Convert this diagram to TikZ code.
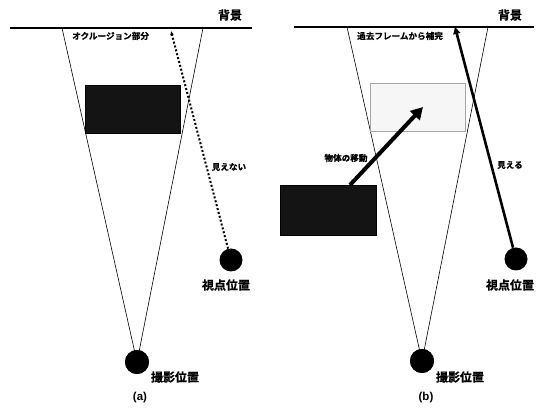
\documentclass[tikz,border=0pt]{standalone}
\usepackage{fontspec}
\setmainfont{Liberation Sans}
\newfontfamily\jpfont{Noto Sans CJK JP}[BoldFont={* Bold}, BoldFeatures={FakeBold=0.8}]
\usetikzlibrary{arrows.meta}
\tikzset{
  ground/.style={line width=1.6pt},
  ray/.style={line width=0.6pt},
  lens/.style={circle, fill=black, minimum size=24pt, inner sep=0pt},
  bigtag/.style={font=\jpfont\bfseries\fontsize{12}{12}\selectfont, inner sep=0pt},
  smalltag/.style={font=\jpfont\bfseries\fontsize{8.6}{9}\selectfont, inner sep=0pt},
  captag/.style={font=\bfseries\fontsize{11.5}{11.5}\selectfont, inner sep=0pt},
  solid block/.style={fill=black!92, draw=black, line width=0.4pt},
  ghost block/.style={fill=gray!7, draw=gray!70, line width=0.5pt},
}
\begin{document}
\begin{tikzpicture}[x=1pt, y=-1pt]
\useasboundingbox (0,0) rectangle (549,411);

% ---------------- (a) ----------------
\coordinate (aL) at (10,28);
\coordinate (aR) at (252,28);
\draw[ground] (aL) -- (aR);
\node[bigtag] (abg) at (230,15) {背景};

\coordinate (aTL) at (62,28);
\coordinate (aTR) at (203,28);
\node[lens] (acam) at (137,362) {};
\draw[ray] (aTL) -- (acam.center) -- (aTR);
\node[lens] (acam2) at (137,362) {};

\node[solid block, minimum width=95pt, minimum height=48pt, inner sep=0pt] (ablk) at (132.5,109) {};

\node[smalltag, anchor=west] (aocc) at (72,36) {オクルージョン部分};

\node[lens, minimum size=23pt] (aview) at (231,260) {};
\coordinate (atgt) at (171,31);
\draw[line width=2pt, dotted, -{Latex[length=4pt,width=4pt]}] (aview) -- (atgt);
\node[smalltag] (ainv) at (229,167) {見えない};

\node[bigtag] (aviewlbl) at (226,285) {視点位置};
\node[bigtag] (acamlbl) at (175,377) {撮影位置};
\node[captag] (acap) at (140,398) {(a)};

% ---------------- (b) ----------------
\coordinate (bL) at (294,27);
\coordinate (bR) at (534,27);
\draw[ground] (bL) -- (bR);
\node[bigtag] (bbg) at (510,15) {背景};

\coordinate (bTL) at (347,27);
\coordinate (bTR) at (488,27);
\node[lens] (bcam) at (422,361) {};
\draw[ray] (bTL) -- (bcam.center) -- (bTR);
\node[lens] (bcam2) at (422,361) {};

\node[ghost block, minimum width=95pt, minimum height=48pt, inner sep=0pt] (bghost) at (417.5,107) {};
\node[solid block, minimum width=96pt, minimum height=50pt, inner sep=0pt] (bblk) at (328.5,210) {};

\node[smalltag, anchor=west] (bfill) at (357,36) {過去フレームから補完};

\coordinate (bmove) at (423,107);
\draw[line width=4pt, -{Triangle[length=12pt,width=13pt]}] (350,185) -- (bmove);
\node[smalltag] (bmovelbl) at (346,158) {物体の移動};

\node[lens, minimum size=23pt] (bview) at (516,259) {};
\coordinate (btgt) at (455,27);
\draw[line width=2.6pt, -{Triangle[length=7pt,width=7pt]}] (bview) -- (btgt);
\node[smalltag] (bvis) at (510,165) {見える};

\node[bigtag] (bviewlbl) at (510,285) {視点位置};
\node[bigtag] (bcamlbl) at (460,377) {撮影位置};
\node[captag] (bcap) at (426,398) {(b)};
\end{tikzpicture}
\end{document}
